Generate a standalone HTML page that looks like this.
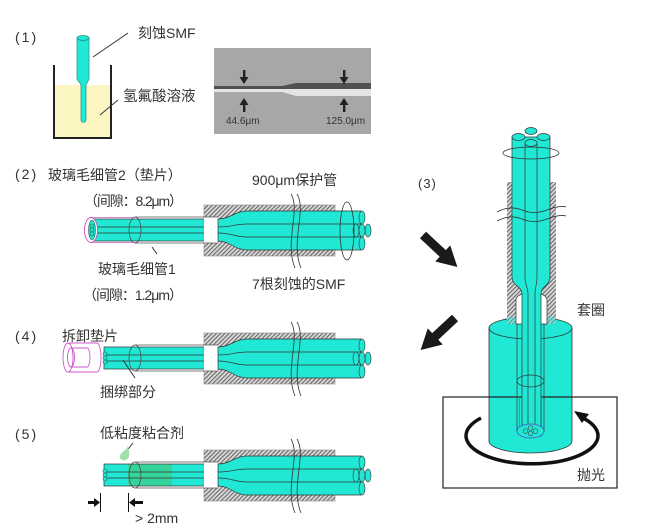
<!DOCTYPE html>
<html><head><meta charset="utf-8"><style>
html,body{margin:0;padding:0;background:#fff;}
svg{display:block;}
text{font-family:"Liberation Sans","Noto Sans CJK SC",sans-serif;fill:#333;}
</style></head><body>
<svg width="645" height="530" viewBox="0 0 645 530" xmlns="http://www.w3.org/2000/svg">
<defs>
<pattern id="h" width="3" height="3" patternUnits="userSpaceOnUse" patternTransform="rotate(45)">
<rect width="3" height="3" fill="#dadada"/><line x1="0.6" y1="0" x2="0.6" y2="3" stroke="#666" stroke-width="1.1"/>
</pattern>
<g id="asm">
<rect x="204" y="-25" width="131" height="51" fill="url(#h)" stroke="#888" stroke-width="0.6"/>
<rect x="204" y="-13" width="14" height="26" fill="#fff"/>
<path d="M218 -11 C230 -11 235 -19 247 -19 L361 -19 L361 20 L247 20 C235 20 230 11 218 11 Z" fill="#20e8d4" stroke="#333" stroke-width="0.7"/>
<path d="M218 -3 C232 -3 235 -6 247 -6 L361 -6 M218 3 C232 3 235 7 247 7 L361 7" fill="none" stroke="#333" stroke-width="0.7"/>
<ellipse cx="362" cy="-12.5" rx="3" ry="6.5" fill="#20e8d4" stroke="#333" stroke-width="0.6"/>
<ellipse cx="362" cy="13.5" rx="3" ry="6.5" fill="#20e8d4" stroke="#333" stroke-width="0.6"/>
<ellipse cx="356" cy="0.5" rx="3" ry="6.5" fill="#20e8d4" stroke="#333" stroke-width="0.6"/>
<ellipse cx="368" cy="0.5" rx="3" ry="6.5" fill="#20e8d4" stroke="#333" stroke-width="0.6"/>
<ellipse cx="362" cy="0.5" rx="3" ry="6.5" fill="#20e8d4" stroke="#333" stroke-width="0.6"/>
<path d="M135 -13 L218 -13 M135 13 L218 13" stroke="#555" stroke-width="0.7" fill="none"/>
<ellipse cx="135" cy="0" rx="6" ry="13" fill="none" stroke="#444" stroke-width="0.7"/>
<path d="M291 -36 C301 -20 284 12 295 38 M297 -36 C307 -20 290 12 301 38" fill="none" stroke="#333" stroke-width="0.8"/>
</g>
</defs>

<!-- ===== (1) ===== -->
<text x="15" y="42" font-size="14" letter-spacing="2">(1)</text>
<rect x="55" y="85" width="55" height="52" fill="#fbf5c2"/>
<path d="M54 65 L54 138 L111 138 L111 65" fill="none" stroke="#222" stroke-width="2"/>
<path d="M77 38 L77 78 C77 82 81 82 81 86 L81 120 C81 123 86 123 86 120 L86 86 C86 82 89 82 89 78 L89 38 Z" fill="#20e8d4" stroke="#2a9a90" stroke-width="0.8"/>
<ellipse cx="83" cy="38" rx="6" ry="2.5" fill="#20e8d4" stroke="#2a8a80" stroke-width="0.8"/>
<line x1="93" y1="57" x2="128" y2="33" stroke="#333" stroke-width="1"/>
<line x1="100" y1="115" x2="118" y2="100" stroke="#333" stroke-width="1"/>
<text x="138" y="38" font-size="14">刻蚀SMF</text>
<text x="123" y="101" font-size="14.5">氢氟酸溶液</text>
<rect x="214" y="48" width="157" height="86" fill="#a7a7a7"/>
<path d="M214 86 L282 86 L296 83 L371 83 L371 89 L214 89 Z" fill="#505050"/>
<path d="M214 89 L371 89 L371 96 L296 96 L282 92 L214 92 Z" fill="#e4e4e4"/>
<g fill="#222">
<rect x="243" y="70" width="2.4" height="8"/><path d="M239.5 77 L248.5 77 L244 84 Z"/>
<rect x="343" y="70" width="2.4" height="8"/><path d="M339.5 77 L348.5 77 L344 84 Z"/>
<rect x="243" y="104" width="2.4" height="8"/><path d="M239.5 105 L248.5 105 L244 98 Z"/>
<rect x="343" y="104" width="2.4" height="8"/><path d="M339.5 105 L348.5 105 L344 98 Z"/>
</g>
<text x="226" y="124" font-size="10" fill="#222">44.6μm</text>
<text x="326" y="124" font-size="10" fill="#222">125.0μm</text>

<!-- ===== (2) ===== -->
<text x="15" y="179" font-size="14" letter-spacing="2">(2)</text>
<text x="48" y="180" font-size="14">玻璃毛细管2（垫片）</text>
<text x="84" y="206" font-size="14" textLength="99">（间隙：8.2μm）</text>
<text x="252" y="185" font-size="14">900μm保护管</text>
<rect x="92" y="219" width="127" height="22" fill="#20e8d4" stroke="#333" stroke-width="0.7"/>
<path d="M92 227 L219 227 M92 233 L219 233" stroke="#333" stroke-width="0.7"/>
<use href="#asm" transform="translate(0,230)"/>
<ellipse cx="347" cy="231" rx="7" ry="29" fill="none" stroke="#333" stroke-width="0.8"/>
<path d="M91 217.5 L135 217.5 M91 242.5 L135 242.5" stroke="#c060c0" stroke-width="0.7"/>
<ellipse cx="91" cy="230" rx="6.5" ry="12.5" fill="#fff" stroke="#c050c0" stroke-width="0.9"/>
<ellipse cx="92" cy="230" rx="3.5" ry="10" fill="#20e8d4" stroke="#333" stroke-width="0.5"/>
<g fill="#20e8d4" stroke="#1a5a50" stroke-width="0.6">
<circle cx="92" cy="226" r="2"/><circle cx="92" cy="230" r="2"/><circle cx="92" cy="234" r="2"/>
</g>
<line x1="152" y1="247" x2="157" y2="254" stroke="#333" stroke-width="1"/>
<text x="98" y="274" font-size="14">玻璃毛细管1</text>
<text x="83" y="300" font-size="14" textLength="100">（间隙：1.2μm）</text>
<text x="252" y="289" font-size="14">7根刻蚀的SMF</text>

<!-- ===== (4) ===== -->
<text x="15" y="341" font-size="14" letter-spacing="2">(4)</text>
<text x="62" y="341" font-size="14">拆卸垫片</text>
<g fill="none" stroke="#cc55cc" stroke-width="0.9">
<path d="M68 343 L97 343 A4 14.5 0 0 1 97 372 L68 372"/>
<ellipse cx="68" cy="357.5" rx="5" ry="14.5"/>
<path d="M71 348 L87 348 A3 9.5 0 0 1 87 367 L71 367"/>
<ellipse cx="71" cy="357.5" rx="3.5" ry="9.5"/>
</g>
<rect x="104" y="347" width="115" height="22" fill="#20e8d4" stroke="#333" stroke-width="0.7"/>
<path d="M104 355 L219 355 M104 361 L219 361" stroke="#333" stroke-width="0.7"/>
<g fill="#20e8d4" stroke="#1a5a50" stroke-width="0.6">
<circle cx="105" cy="354" r="2"/><circle cx="105" cy="358" r="2"/><circle cx="105" cy="362" r="2"/>
</g>
<use href="#asm" transform="translate(0,358)"/>
<line x1="123" y1="360" x2="135" y2="378" stroke="#333" stroke-width="1"/>
<text x="100" y="397" font-size="14">捆绑部分</text>

<!-- ===== (5) ===== -->
<text x="15" y="439" font-size="14" letter-spacing="2">(5)</text>
<text x="100" y="438" font-size="14">低粘度粘合剂</text>
<line x1="125" y1="453" x2="133" y2="443" stroke="#333" stroke-width="1"/>
<path d="M128 446 C126 451 120 452 120 457 C120 461 128 462 129 456 C130 452 128 449 128 446 Z" fill="#9ee0a8"/>
<rect x="104" y="464" width="115" height="22" fill="#20e8d4" stroke="#333" stroke-width="0.7"/>
<rect x="128" y="464.5" width="44" height="21" fill="#36d39a"/>
<path d="M104 472 L219 472 M104 478 L219 478" stroke="#333" stroke-width="0.7"/>
<g fill="#20e8d4" stroke="#1a5a50" stroke-width="0.6">
<circle cx="105" cy="471" r="2"/><circle cx="105" cy="475" r="2"/><circle cx="105" cy="479" r="2"/>
</g>
<use href="#asm" transform="translate(0,475)"/>
<g stroke="#111" fill="#111">
<line x1="100.5" y1="493" x2="100.5" y2="512" stroke-width="1"/>
<line x1="128.5" y1="493" x2="128.5" y2="512" stroke-width="1"/>
<rect x="88" y="501" width="7" height="3" stroke="none"/>
<path d="M94 498 L100 502.5 L94 507 Z" stroke="none"/>
<rect x="135" y="501" width="8" height="3" stroke="none"/>
<path d="M135 498 L129 502.5 L135 507 Z" stroke="none"/>
</g>
<text x="135" y="523" font-size="14">&gt; 2mm</text>

<!-- ===== (3) ===== -->
<text x="418" y="188" font-size="13" letter-spacing="1">(3)</text>
<g fill="#1a1a1a">
<path d="M0 -4.5 L27 -4.5 L27 -11 L47 0 L27 11 L27 4.5 L0 4.5 Z" transform="translate(423,235) rotate(43)"/>
<path d="M0 -4.5 L27 -4.5 L27 -11 L47 0 L27 11 L27 4.5 L0 4.5 Z" transform="translate(455,318) rotate(137)"/>
</g>
<!-- polishing rect -->
<rect x="443" y="397" width="174" height="91" fill="none" stroke="#222" stroke-width="1.2"/>
<!-- cylinder -->
<path d="M489 328 L489 441 A41.5 12 0 0 0 572 441 L572 328 Z" fill="#20e8d4" stroke="#333" stroke-width="0.8"/>
<ellipse cx="530.5" cy="328" rx="41.5" ry="11" fill="#20e8d4" stroke="#333" stroke-width="0.8"/>
<line x1="489" y1="397" x2="572" y2="397" stroke="#222" stroke-width="1.2"/>
<!-- sleeve -->
<rect x="507" y="182" width="49" height="142" fill="url(#h)"/>
<rect x="507" y="317" width="49" height="7" fill="#20e8d4" opacity="0.45"/>
<path d="M516 324 L516 300 C516 290 547 290 547 300 L547 324 Z" fill="#fff" stroke="#333" stroke-width="0.7"/>
<!-- bundle -->
<path d="M512 137 L512 277 C512 286 522 286 522 294 L522 436 L541 436 L541 294 C541 286 550 286 550 277 L550 137 Z" fill="#20e8d4" stroke="#333" stroke-width="0.7"/>
<path d="M525 143 L525 277 C525 285 528 287 528 294 L528 432 M537 143 L537 277 C537 285 535 287 535 294 L535 432" fill="none" stroke="#333" stroke-width="0.7"/>
<g fill="#20e8d4" stroke="#333" stroke-width="0.7">
<ellipse cx="531" cy="131" rx="6" ry="3.5"/>
<ellipse cx="518.5" cy="137" rx="6.5" ry="3.5"/>
<ellipse cx="543.5" cy="137" rx="6.5" ry="3.5"/>
<ellipse cx="531" cy="143" rx="6" ry="3.5"/>
</g>
<ellipse cx="531" cy="153" rx="28" ry="6" fill="none" stroke="#333" stroke-width="0.8"/>
<path d="M497 212 Q510 205 522 210 T547 210 T566 207 M497 221 Q510 214 522 219 T547 219 T566 216" fill="none" stroke="#333" stroke-width="0.8"/>
<!-- capillary in cylinder -->
<path d="M517 324 L517 432 M544 324 L544 432" stroke="#333" stroke-width="0.7"/>
<path d="M519.5 397 L519.5 434 M541.5 397 L541.5 434" stroke="#6060d0" stroke-width="0.7"/>
<ellipse cx="530.5" cy="381" rx="13.5" ry="6" fill="none" stroke="#333" stroke-width="0.7"/>
<ellipse cx="530.5" cy="431" rx="13.5" ry="7" fill="#20e8d4" stroke="#5050c0" stroke-width="0.8"/>
<g fill="none" stroke="#444" stroke-width="0.6">
<circle cx="530.5" cy="428" r="2.3"/><circle cx="530.5" cy="433.5" r="2.3"/>
<circle cx="525.5" cy="431" r="2.3"/><circle cx="535.5" cy="431" r="2.3"/>
</g>
<!-- rotation arrow -->
<path d="M481 418 A66 28 0 1 0 581 417" fill="none" stroke="#111" stroke-width="3.5"/>
<path d="M574 411 L589 414 L582 423 Z" fill="#111"/>
<text x="577" y="315" font-size="14">套圈</text>
<text x="577" y="480" font-size="14">抛光</text>
</svg>
</body></html>
